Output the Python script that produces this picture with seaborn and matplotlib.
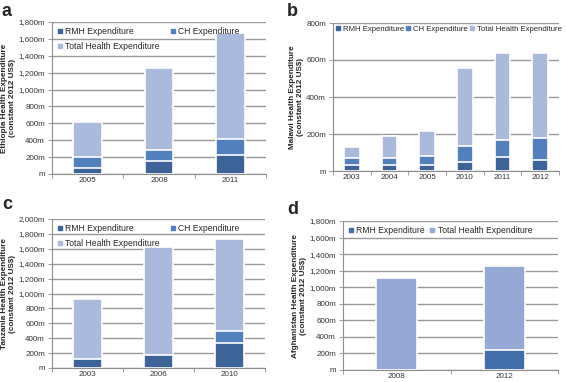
import numpy as np
import pandas as pd
import matplotlib
matplotlib.use("Agg")
import matplotlib.pyplot as plt
import seaborn as sns
from matplotlib.lines import Line2D
from matplotlib.ticker import FuncFormatter, MultipleLocator

sns.set_style("white")
plt.rcParams['font.family'] = ['Liberation Sans', 'DejaVu Sans']

# ---- data (million constant 2012 US$) ----
eth_years = ["2005", "2008", "2011"]
eth_rmh = [75, 155, 225]
eth_ch = [125, 125, 190]
eth_total = [610, 1255, 1675]

mw_years = ["2003", "2004", "2005", "2010", "2011", "2012"]
mw_rmh = [35, 35, 35, 50, 78, 62]
mw_ch = [37, 33, 45, 85, 87, 115]
mw_total = [132, 190, 218, 555, 640, 638]

tz_years = ["2003", "2006", "2010"]
tz_rmh = [120, 170, 330]
tz_ch = [np.nan, np.nan, 165]
tz_total = [930, 1620, 1725]

af_years = ["2008", "2012"]
af_rmh = [np.nan, 240]
af_total = [1110, 1260]

C_RMH = "#3d6499"
C_CH = "#5180bd"
C_TOT = "#aabadd"
C_RMH_D = "#416ea8"
C_TOT_D = "#94a9d5"
GRID = "#999999"


def fmt(v, pos):
    return "m" if v == 0 else f"{int(v):,}m"


def panel(ax, years, rmh, ch, total, ymax, width, ylabel, tot_color=C_TOT, rmh_color=C_RMH,
          ncol=2, colspace=1.0, show_ch=True, legsize=6.2, legpad=0.3):
    df = pd.DataFrame({"year": years, "rmh": rmh, "ch": ch, "total": total})
    df["ch_top"] = df["rmh"].fillna(0) + df["ch"]
    sns.barplot(data=df, x="year", y="total", color=tot_color, width=width,
                edgecolor="white", linewidth=1.2, saturation=1, ax=ax, zorder=3)
    if show_ch:
        sns.barplot(data=df, x="year", y="ch_top", color=C_CH, width=width,
                    edgecolor="white", linewidth=1.2, saturation=1, ax=ax, zorder=4)
    sns.barplot(data=df, x="year", y="rmh", color=rmh_color, width=width,
                edgecolor="white", linewidth=1.2, saturation=1, ax=ax, zorder=5)
    ax.set_ylim(0, ymax)
    ax.set_xlim(-0.5, len(years) - 0.5)
    ax.yaxis.set_major_locator(MultipleLocator(200))
    ax.yaxis.set_major_formatter(FuncFormatter(fmt))
    ax.grid(axis="y", color=GRID, linewidth=1.0, zorder=0)
    ax.set_axisbelow(True)
    for s in ["top", "right"]:
        ax.spines[s].set_visible(False)
    for s in ["left", "bottom"]:
        ax.spines[s].set_color("#8c8c8c")
        ax.spines[s].set_linewidth(0.8)
    ax.tick_params(axis="both", labelsize=5.8, colors="#333333", length=0, pad=2)
    ax.tick_params(axis="y", length=3, width=0.6, color="#8c8c8c", left=True, direction="out")
    ax.set_xticks(np.arange(-0.5, len(years)), minor=True)
    ax.tick_params(axis="x", which="minor", length=3, width=0.6, color="#8c8c8c", bottom=True)
    ax.set_xlabel("")
    ax.set_ylabel(ylabel, fontsize=5.9, fontweight="bold", labelpad=2, linespacing=1.1)

    rmh_h = Line2D([], [], marker="s", ls="", color=rmh_color, markersize=2.5)
    ch_h = Line2D([], [], marker="s", ls="", color=C_CH, markersize=2.5)
    tot_h = Line2D([], [], marker="s", ls="", color=tot_color, markersize=2.5)
    if show_ch and ncol == 2:
        handles = [rmh_h, tot_h, ch_h]
        labels = ["RMH Expenditure", "Total Health Expenditure", "CH Expenditure"]
    elif show_ch:
        handles = [rmh_h, ch_h, tot_h]
        labels = ["RMH Expenditure", "CH Expenditure", "Total Health Expenditure"]
    else:
        handles = [rmh_h, tot_h]
        labels = ["RMH Expenditure", "Total Health Expenditure"]
    ax.legend(handles, labels, ncol=ncol, loc="upper left", frameon=False, fontsize=legsize,
              handlelength=0.6, handletextpad=0.3, columnspacing=colspace,
              borderaxespad=legpad, borderpad=0.3, labelspacing=0.7)


fig = plt.figure(figsize=(5.66, 3.82), dpi=100)
W, H = 566, 382


def add_ax(l, t, r, b):
    return fig.add_axes([l / W, 1 - b / H, (r - l) / W, (b - t) / H])


ax_a = add_ax(52, 22, 266, 174)
ax_b = add_ax(333, 23, 559, 171)
ax_c = add_ax(52, 219, 265, 368)
ax_d = add_ax(343, 221, 558, 370)

panel(ax_a, eth_years, eth_rmh, eth_ch, eth_total, 1800, 0.4,
      "Ethiopia Health Expenditure\n(constant 2012 US$)", colspace=1.3)
panel(ax_b, mw_years, mw_rmh, mw_ch, mw_total, 800, 0.42,
      "Malawi Health Expenditure\n(constant 2012 US$)", ncol=3, colspace=0.25,
      legsize=5.6, legpad=0.05)
panel(ax_c, tz_years, tz_rmh, tz_ch, tz_total, 2000, 0.4,
      "Tanzania Health Expenditure\n(constant 2012 US$)", colspace=1.3)
panel(ax_d, af_years, af_rmh, [np.nan, np.nan], af_total, 1800, 0.38,
      "Afghanistan Health Expenditure\n(constant 2012 US$)", tot_color=C_TOT_D,
      rmh_color=C_RMH_D, colspace=0.6, show_ch=False)

# panel letters
fig.text(2 / W, 1 - 16 / H, "a", fontsize=13, fontweight="bold")
fig.text(287 / W, 1 - 16 / H, "b", fontsize=13, fontweight="bold")
fig.text(2 / W, 1 - 209 / H, "c", fontsize=13, fontweight="bold")
fig.text(287 / W, 1 - 214 / H, "d", fontsize=13, fontweight="bold")

fig.savefig("out.png", dpi=100)
